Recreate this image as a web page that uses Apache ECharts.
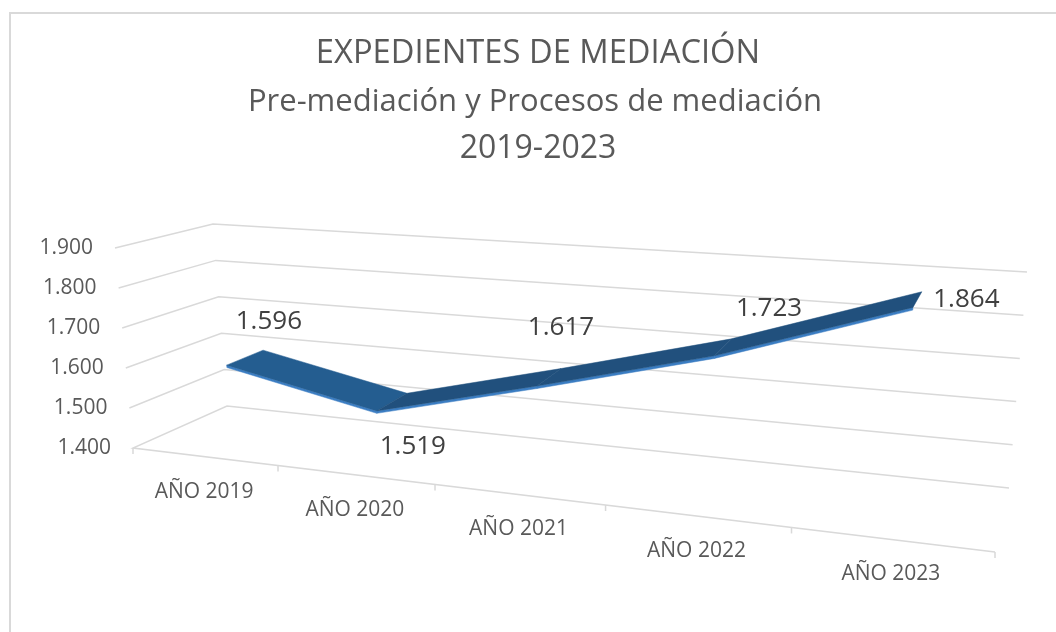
<!DOCTYPE html>
<html>
<head>
<meta charset="utf-8">
<script src="https://cdn.jsdelivr.net/npm/echarts@6/dist/echarts.min.js"></script>
<style>
  html, body { margin: 0; padding: 0; background: #fff; }
  #main { width: 1056px; height: 632px; }
</style>
</head>
<body>
<div id="main"></div>
<script>
// data
let categories = ['AÑO 2019', 'AÑO 2020', 'AÑO 2021', 'AÑO 2022', 'AÑO 2023'];
let values = [1596, 1519, 1617, 1723, 1864];
let yTicks = [1400, 1500, 1600, 1700, 1800, 1900];

// where the 3d box corners land on screen (front/back, left/right, bottom/top)
let FLB = [133, 448], FRB = [995, 552], BLB = [227, 406], BRB = [1009, 488];
let FLT = [115, 248], FRT = [1016, 310], BLT = [213, 224], BRT = [1027, 272];
let xPersp = 0.809;
let ribbonFront = 0.32, ribbonBack = 0.73, ribbonMid = 0.525;
let labelOffsets = [[24, -36], [21, 45], [12, -50], [46, -39], [49, 0]];

let font = '"Open Sans", "Noto Sans", sans-serif';

function lerp(a, b, t) {
    return [a[0] + (b[0] - a[0]) * t, a[1] + (b[1] - a[1]) * t];
}

function project(X, Y, Z) {
    let u = X * xPersp / (1 + X * (xPersp - 1));
    let f = lerp(lerp(FLB, FRB, u), lerp(FLT, FRT, u), Y);
    let b = lerp(lerp(BLB, BRB, u), lerp(BLT, BRT, u), Y);
    return lerp(f, b, Z);
}

// turn a pixel from the flat grid into 0..1 box coords
function norm(cs, p) {
    return [(p[0] - cs.x) / cs.width, (cs.y + cs.height - p[1]) / cs.height];
}

function fmt(v) {
    return (v / 1000).toFixed(3);
}

let mychart = echarts.init(document.getElementById('main'));

let option = {
    animation: false,
    backgroundColor: '#fff',
    grid: { left: 133, top: 248, width: 862, height: 200 },
    xAxis: { type: 'category', data: categories, show: false },
    yAxis: { type: 'value', min: 1400, max: 1900, interval: 100, show: false },
    graphic: [
        {
            type: 'rect', z: 0,
            shape: { x: 10, y: 13, width: 1100, height: 700 },
            style: { fill: null, stroke: '#d9d9d9', lineWidth: 2 }
        },
        {
            type: 'text', x: 538, y: 54,
            style: { text: 'EXPEDIENTES DE MEDIACIÓN', font: '32.7px ' + font, fill: '#595959', align: 'center', verticalAlign: 'middle' }
        },
        {
            type: 'text', x: 535, y: 102,
            style: { text: 'Pre-mediación y Procesos de mediación', font: '31px ' + font, fill: '#595959', align: 'center', verticalAlign: 'middle' }
        },
        {
            type: 'text', x: 538, y: 149,
            style: { text: '2019-2023', font: '32px ' + font, fill: '#595959', align: 'center', verticalAlign: 'middle' }
        }
    ],
    series: [
        {
            // gridlines on side wall + back wall, floor edges for the lowest tick
            type: 'custom',
            z: 1,
            silent: true,
            data: yTicks.map(v => [0, v]),
            renderItem: function(params, api) {
                let cs = params.coordSys;
                let Y = norm(cs, api.coord([0, api.value(1)]))[1];
                let pts = [project(0, Y, 0), project(0, Y, 1), project(1, Y, 1)];
                if (params.dataIndex === 0) {
                    pts.unshift(project(1, Y, 0));
                }
                let p0 = project(0, Y, 0);
                return {
                    type: 'group',
                    children: [
                        {
                            type: 'polyline',
                            shape: { points: pts },
                            style: { stroke: '#d9d9d9', lineWidth: 1.5, fill: null }
                        },
                        {
                            type: 'text',
                            x: p0[0] - 22, y: p0[1],
                            style: { text: fmt(api.value(1)), font: '21px ' + font, fill: '#595959', align: 'right', verticalAlign: 'middle' }
                        }
                    ]
                };
            }
        },
        {
            // category ticks and labels along the front axis
            type: 'custom',
            z: 1,
            silent: true,
            data: categories.map((c, i) => [i, 1400]),
            renderItem: function(params, api) {
                let cs = params.coordSys;
                let i = params.dataIndex;
                let half = api.size([1, 0])[0] / 2;
                let c = api.coord([i, 1400]);
                let X = norm(cs, c)[0];
                let Xl = norm(cs, [c[0] - half, c[1]])[0];
                let Xr = norm(cs, [c[0] + half, c[1]])[0];
                let children = [];
                let ticks = [Xl];
                if (i === categories.length - 1) ticks.push(Xr);
                ticks.forEach(function(t) {
                    let p = project(t, 0, 0);
                    children.push({
                        type: 'line',
                        shape: { x1: p[0], y1: p[1], x2: p[0], y2: p[1] + 6 },
                        style: { stroke: '#d9d9d9', lineWidth: 1.5 }
                    });
                });
                let lp = project(X, 0, 0);
                children.push({
                    type: 'text',
                    x: lp[0], y: lp[1] + 35,
                    style: { text: categories[i], font: '21px ' + font, fill: '#595959', align: 'center', verticalAlign: 'middle' }
                });
                return { type: 'group', children: children };
            }
        },
        {
            // the 3d ribbon, one piece per segment
            type: 'custom',
            z: 2,
            silent: true,
            data: values.map((v, i) => [i, v]),
            renderItem: function(params, api) {
                let i = params.dataIndex;
                if (i >= values.length - 1) return null;
                let cs = params.coordSys;
                let a = norm(cs, api.coord([i, api.value(1)]));
                let b = norm(cs, api.coord([i + 1, values[i + 1]]));
                let lip = 0.012;
                let f0 = project(a[0], a[1], ribbonFront), k0 = project(a[0], a[1], ribbonBack);
                let f1 = project(b[0], b[1], ribbonFront), k1 = project(b[0], b[1], ribbonBack);
                let g0 = project(a[0], a[1] - lip, ribbonFront), g1 = project(b[0], b[1] - lip, ribbonFront);
                let topColor = values[i + 1] < values[i] ? '#245d90' : '#21507d';
                return {
                    type: 'group',
                    children: [
                        {
                            type: 'polygon',
                            shape: { points: [f0, f1, g1, g0] },
                            style: { fill: '#3b7dc2', stroke: '#3b7dc2', lineWidth: 0.5 }
                        },
                        {
                            type: 'polygon',
                            shape: { points: [f0, k0, k1, f1] },
                            style: { fill: topColor, stroke: topColor, lineWidth: 0.5 }
                        }
                    ]
                };
            }
        },
        {
            // data labels
            type: 'custom',
            z: 3,
            silent: true,
            data: values.map((v, i) => [i, v]),
            renderItem: function(params, api) {
                let i = params.dataIndex;
                let cs = params.coordSys;
                let a = norm(cs, api.coord([i, api.value(1)]));
                let p = project(a[0], a[1], ribbonMid);
                return {
                    type: 'text',
                    x: p[0] + labelOffsets[i][0], y: p[1] + labelOffsets[i][1],
                    style: { text: fmt(api.value(1)), font: '26px ' + font, fill: '#404040', align: 'center', verticalAlign: 'middle' }
                };
            }
        }
    ]
};

mychart.setOption(option);
</script>
</body>
</html>
